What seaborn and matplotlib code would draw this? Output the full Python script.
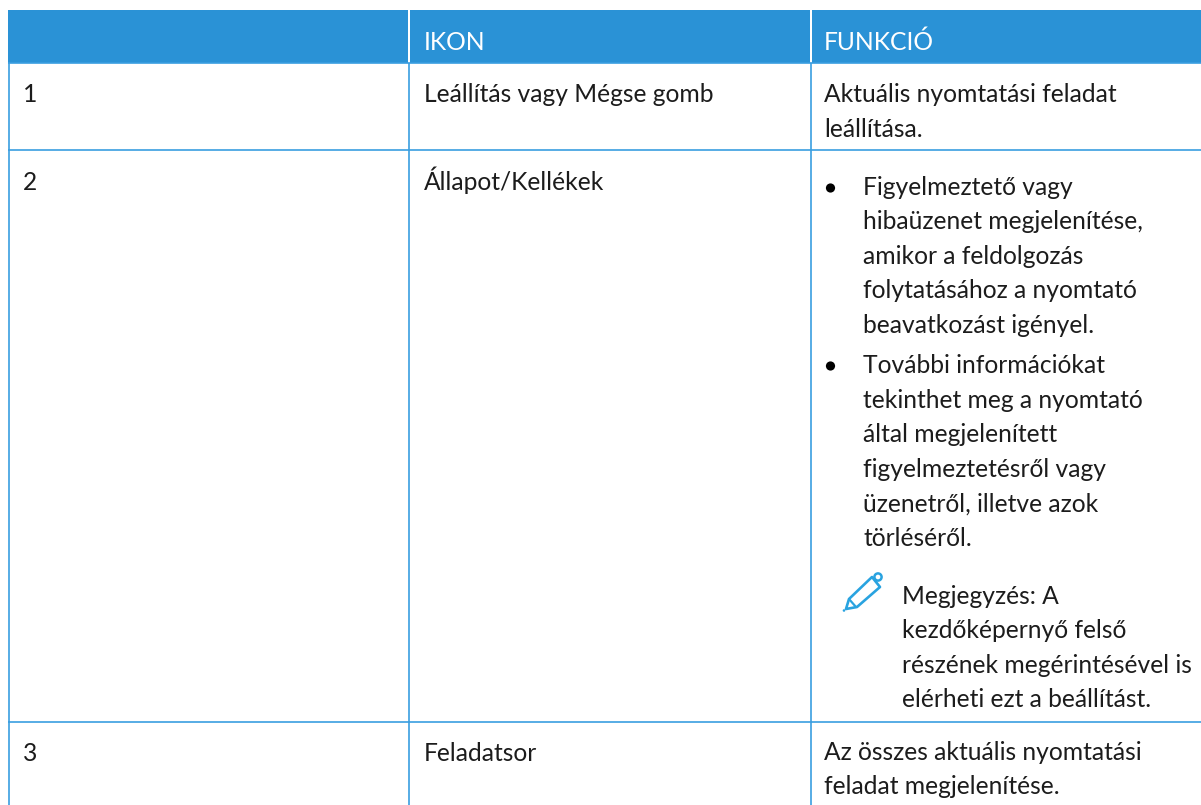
import matplotlib
matplotlib.use("Agg")
import matplotlib.pyplot as plt
from matplotlib.patches import Rectangle, Polygon, Circle
import seaborn as sns

sns.set_theme(style="white")
plt.rcParams["font.family"] = ["Lato", "DejaVu Sans"]

headers = ["", "IKON", "FUNKCIÓ"]
row_numbers = ["1", "2", "3"]
icons = ["Leállítás vagy Mégse gomb", "Állapot/Kellékek", "Feladatsor"]
func_1 = ["Aktuális nyomtatási feladat", "leállítása."]
bullet_1 = ["Figyelmeztető vagy", "hibaüzenet megjelenítése,", "amikor a feldolgozás",
            "folytatásához a nyomtató", "beavatkozást igényel."]
bullet_2 = ["További információkat", "tekinthet meg a nyomtató", "által megjelenített",
            "figyelmeztetésről vagy", "üzenetről, illetve azok", "törléséről."]
note = ["Megjegyzés: A", "kezdőképernyő felső", "részének megérintésével is",
        "elérheti ezt a beállítást."]
func_3 = ["Az összes aktuális nyomtatási", "feladat megjelenítése."]

W, H = 1201, 805
HEAD = "#2a92d6"
LINE = "#3a9ee0"
INK = "#1c1c1c"
FS = 24.6 * 72 / 100

fig = plt.figure(figsize=(W / 100, H / 100), dpi=100, facecolor="white")
ax = fig.add_axes([0, 0, 1, 1])
ax.set_xlim(0, W)
ax.set_ylim(H, 0)
ax.axis("off")

ax.add_patch(Rectangle((8, 10), 400, 53, fc=HEAD, ec="none"))
ax.add_patch(Rectangle((410, 10), 400, 53, fc=HEAD, ec="none"))
ax.add_patch(Rectangle((812, 10), W - 812, 53, fc=HEAD, ec="none"))

for y in (63.5, 150.5, 722):
    ax.plot([8, W], [y, y], color=LINE, lw=1.2, solid_capstyle="butt")
for x in (8.5, 409, 811):
    ax.plot([x, x], [63, H], color=LINE, lw=1.2, solid_capstyle="butt")


def put(x, y, s, color=INK, **kw):
    ax.text(x, y, s, color=color, fontsize=FS, va="baseline", ha="left", **kw)


put(424, 50, headers[1], color="white")
put(824, 50, headers[2], color="white")

row_y = [102, 190, 761]
for n, t, y in zip(row_numbers, icons, row_y):
    put(23, y, n)
    put(424, y, t)

for i, s in enumerate(func_1):
    put(824, 102 + i * 35, s)
for i, s in enumerate(bullet_1):
    put(863, 195 + i * 34.4, s)
for i, s in enumerate(bullet_2):
    put(863, 373 + i * 34.6, s)
for y in (188, 366):
    ax.add_patch(Circle((830.5, y), 4.6, fc="black", ec="none"))
for i, s in enumerate(note):
    put(902, 604 + i * 34.4, s)
for i, s in enumerate(func_3):
    put(824, 760 + i * 34, s)

# pencil icon
pc = "#29a3e0"
ax.add_patch(Polygon([(846, 609), (849, 599), (872, 577), (880, 587), (857, 607)],
                     closed=True, fc="none", ec=pc, lw=1.9, joinstyle="round"))
ax.add_patch(Circle((878, 577), 3.6, fc="white", ec=pc, lw=1.8))
ax.plot([849, 856], [599, 607], color=pc, lw=1.6)
ax.add_patch(Circle((844, 610.5), 1.3, fc=pc, ec="none"))

fig.savefig("out.png", dpi=100, facecolor="white")
